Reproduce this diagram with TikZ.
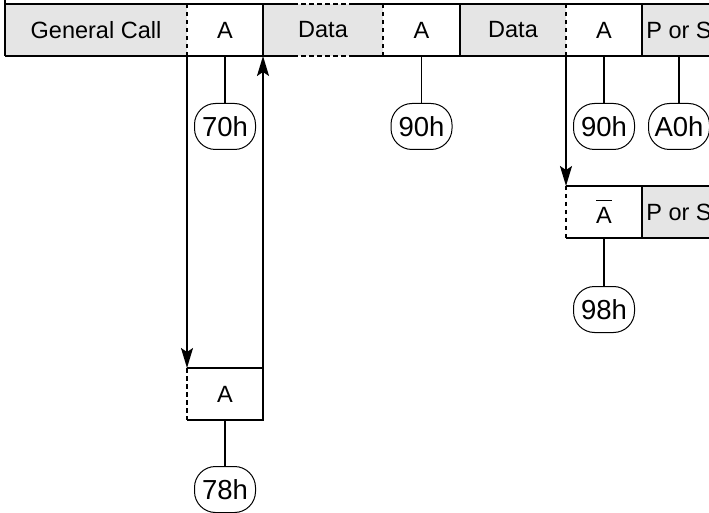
\documentclass[tikz,border=0pt]{standalone}
\usepackage{fontspec}
\setmainfont{Liberation Sans}
\usetikzlibrary{arrows.meta, positioning, calc}
\tikzset{
    cell/.style={rectangle, inner sep=0pt, outer sep=0pt, minimum height=52pt, text centered, font=\fontsize{23.5pt}{28pt}\selectfont},
    graycell/.style={cell, fill=black!10},
    whitecell/.style={cell, fill=white},
    hexcode/.style={rectangle, rounded corners=21pt, draw=black, line width=1pt, inner sep=0pt, minimum width=61pt, minimum height=46pt, text centered, font=\fontsize{27.5pt}{32pt}\selectfont},
    rule/.style={line width=1.8pt},
    dashrule/.style={line width=1.8pt, dash pattern=on 4.5pt off 3.5pt},
    stem/.style={line width=1.8pt},
    arrow/.style={-{Stealth[length=20pt, width=12pt, inset=4pt]}, line width=1.8pt},
}
\newcommand{\notA}{\rlap{\rule[22.5pt]{15.7pt}{1.3pt}}A}
\begin{document}
\begin{tikzpicture}[x=1pt, y=1pt]
        \useasboundingbox (0,0) rectangle (709,512);
        % Top row
        \node[graycell, minimum width=182pt] (gc) at (96,482) {General Call};
        \node[whitecell, minimum width=76pt, right=0pt of gc] (a1) {A};
        \node[graycell, minimum width=120pt, right=0pt of a1] (d1) {Data};
        \node[whitecell, minimum width=77pt, right=0pt of d1] (a2) {A};
        \node[graycell, minimum width=106pt, right=0pt of a2] (d2) {Data};
        \node[whitecell, minimum width=76pt, right=0pt of d2] (a3) {A};
        \node[graycell, minimum width=74pt, right=0pt of a3] (ps) {P or S};

        % Branch rows
        \node[whitecell, minimum width=76pt, below=130pt of a3] (abar) {\notA};
        \node[graycell, minimum width=74pt, right=0pt of abar] (ps2) {P or S};
        \node[whitecell, minimum width=76pt, below=312pt of a1] (abot) {A};

        % Codes
        \node[hexcode, below=47pt of a1] (c70) {70h};
        \node[hexcode, below=47pt of a2] (c90) {90h};
        \node[hexcode, below=47pt of a3] (c90b) {90h};
        \node[hexcode, below=47pt of ps] (ca0) {A0h};
        \node[hexcode, below=48pt of abar] (c98) {98h};
        \node[hexcode, below=46pt of abot] (c78) {78h};

        % Top row outline
        \draw[rule] (gc.south west) -- ([yshift=4pt]gc.north west);
        \draw[rule] (gc.north west) -- ($(d1.north west)+(30,0)$);
        \draw[dashrule] ($(d1.north west)+(30,0)$) -- ($(d1.north east)+(-31,0)$);
        \draw[rule] ($(d1.north east)+(-31,0)$) -- (ps.north east);
        \draw[rule] (gc.south west) -- ($(d1.south west)+(30,0)$);
        \draw[dashrule] ($(d1.south west)+(30,0)$) -- ($(d1.south east)+(-31,0)$);
        \draw[rule] ($(d1.south east)+(-31,0)$) -- (ps.south east);
        \draw[dashrule] (gc.north east) -- (gc.south east);
        \draw[rule] (a1.north east) -- (a1.south east);
        \draw[dashrule] (d1.north east) -- (d1.south east);
        \draw[rule] (a2.north east) -- (a2.south east);
        \draw[dashrule] (d2.north east) -- (d2.south east);
        \draw[rule] (a3.north east) -- (a3.south east);

        % Branch outlines
        \draw[rule] (abar.north west) -- (ps2.north east);
        \draw[rule] (abar.south west) -- (ps2.south east);
        \draw[dashrule] (abar.north west) -- (abar.south west);
        \draw[rule] (abar.north east) -- (abar.south east);
        \draw[rule] (abot.north west) -- (abot.north east) -- (abot.south east) -- (abot.south west);
        \draw[dashrule] (abot.north west) -- (abot.south west);

        % Stems
        \draw[stem] (a1.south) -- (c70.north);
        \draw[stem] (a2.south) -- (c90.north);
        \draw[stem] (a3.south) -- (c90b.north);
        \draw[stem] (ps.south) -- (ca0.north);
        \draw[stem] (abar.south) -- (c98.north);
        \draw[stem] (abot.south) -- (c78.north);

        % Arrows
        \draw[arrow] (gc.south east) -- (abot.north west);
        \draw[arrow] (abot.north east) -- (a1.south east);
        \draw[arrow] (d2.south east) -- (abar.north west);
    \end{tikzpicture}
\end{document}
